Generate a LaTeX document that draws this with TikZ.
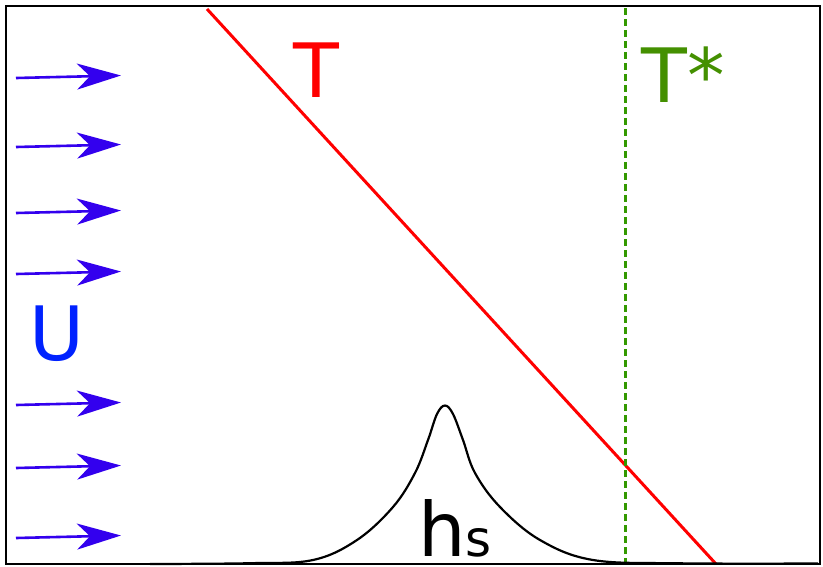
\documentclass[tikz,border=0pt]{standalone}
\usepackage{fontspec}
\setmainfont{DejaVu Sans}
\usetikzlibrary{arrows.meta}
\definecolor{ublue}{RGB}{51,0,238}
\definecolor{ulabel}{RGB}{0,34,255}
\definecolor{tgreen}{RGB}{51,153,0}
\definecolor{tlabel}{RGB}{68,144,0}
\begin{document}
\begin{tikzpicture}[x=1pt,y=-1pt,
  flow/.style={ublue,line width=2.6pt,-{Stealth[length=44pt,width=26pt,inset=13pt]}},
  biglabel/.style={inner sep=0pt,font=\fontsize{75}{75}\selectfont},
  frame/.style={draw=black,line width=2.5pt}]
\useasboundingbox (0,0) rectangle (823,566);
\fill[white] (0,0) rectangle (823,566);
% flow arrows
\foreach \i/\y in {1/77,2/146,3/212,4/273,5/404,6/467,7/537}{
  \coordinate (s\i) at (16,\y+1);
  \coordinate (e\i) at (121,\y-1.5);
  \draw[flow] (s\i) -- (e\i);
}
% T line
\coordinate (ta) at (207,9);
\coordinate (tb) at (716,564);
\draw[red,line width=3pt] (ta) -- (tb);
% T* line
\coordinate (ga) at (625,8);
\coordinate (gb) at (625,564);
\draw[tgreen,line width=3pt,dash pattern=on 7pt off 4pt] (ga) -- (gb);
% topography
\draw[black,line width=2.2pt] plot[smooth,tension=0.6] coordinates {
  (150,564) (250,563.2) (313,560) (357,540) (393,507) (415,473) (428,440)
  (437,414) (445,405.5) (453,414) (463,440) (475,473) (500,507) (540,540)
  (593,560) (680,563.3) (818,563.5)};
% labels
\node[biglabel,red,anchor=base] (T) at (316,97) {T};
\node[biglabel,tlabel,anchor=base west] (Ts) at (641,102) {T*};
\node[biglabel,ulabel,anchor=base] (U) at (57,360) {U};
\node[biglabel,black,anchor=base west] (hs) at (418,556) {h{\fontsize{50}{50}\selectfont s}};
% frame
\draw[frame] (6,6) rectangle (820,564);
\end{tikzpicture}
\end{document}
